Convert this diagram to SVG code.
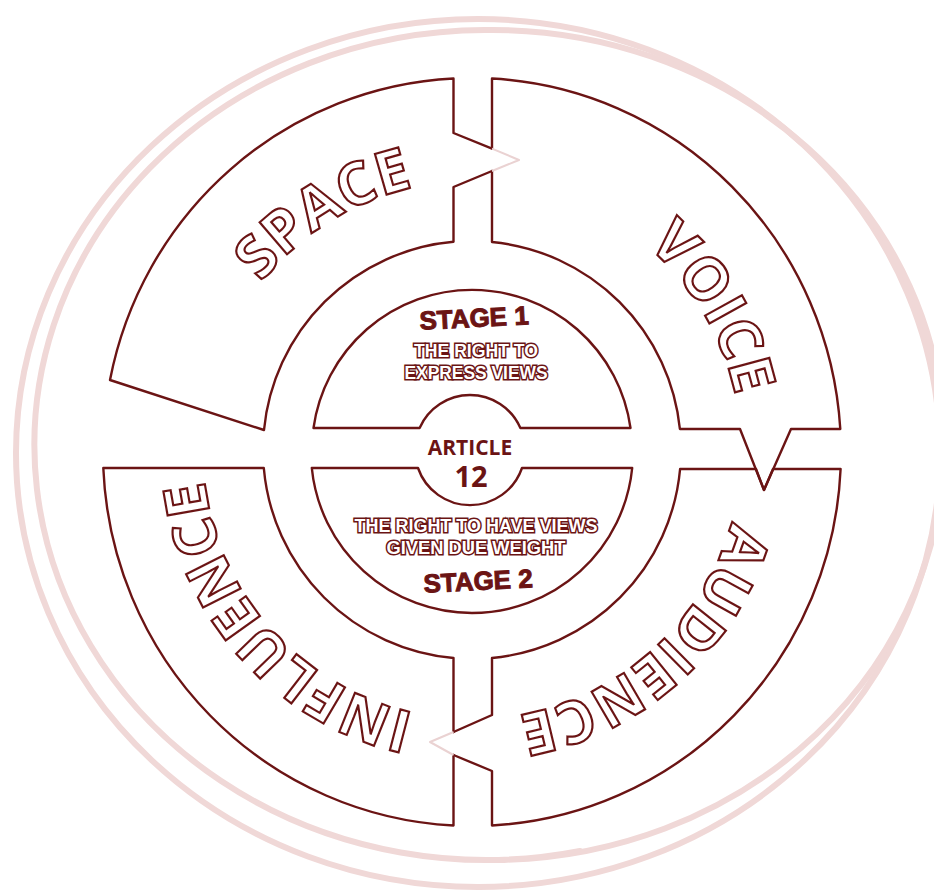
<svg xmlns="http://www.w3.org/2000/svg" width="934" height="892" viewBox="0 0 934 892">
<style>
.ln{fill:none;stroke:#6b1414;stroke-width:2.4;stroke-linejoin:round;stroke-linecap:round}
.pale{fill:none;stroke:#ead2d2;stroke-width:2;stroke-linejoin:round}
.deco{fill:none;stroke:#f0d8d7;stroke-width:6;stroke-linecap:round}
.big{font-family:"Open Sans","DejaVu Sans",sans-serif;font-weight:700;font-size:59px;fill:#fff;stroke:#6b1414;stroke-width:2.2;letter-spacing:0.5px}
.stage{font-family:"Liberation Sans",Arial,sans-serif;font-weight:700;font-size:26px;fill:#6b1414;stroke:#6b1414;stroke-width:1;text-anchor:middle}
.out{font-family:"Liberation Sans",Arial,sans-serif;font-weight:700;font-size:18px;fill:#fff;stroke:#6b1414;stroke-width:3;paint-order:stroke;text-anchor:middle}
.art{font-family:"Open Sans","Liberation Sans",sans-serif;font-weight:700;fill:#6b1414;text-anchor:middle}
</style>
<defs>
<path id="pSpace" d="M 208.9,505.9 A 269 269 0 0 1 637.6,238.0"/>
<path id="pVoice" d="M 423.0,185.5 A 269 269 0 0 1 679.6,621.1"/>
<path id="pAudience" d="M 721.1,348.4 A 269 269 0 0 1 346.5,688.0"/>
<path id="pInfluence" d="M 572.8,699.4 A 269 269 0 0 1 234.5,323.7"/>
</defs>
<rect width="934" height="892" fill="#fff"/>
<g id="decoration">
<ellipse class="deco" cx="478" cy="453" rx="462" ry="434"/>
<path class="deco" d="M 580,851 A 452 415 0 1 1 485,30 A 452 415 0 0 1 499,860"/>
</g>
<g id="node-space">
<path class="ln" d="M 492,148.6 L 453.5,133 L 453.5,78.5 A 369 374 0 0 0 110,380 L 264,430 A 209 209 0 0 1 453.5,241.8 L 453.5,187 L 492,171"/>
<text class="big"><textPath href="#pSpace" startOffset="50%" text-anchor="middle">SPACE</textPath></text>
</g>
<g id="node-voice">
<path class="ln" d="M 492,148.6 L 492,78.5 A 369 374 0 0 1 840.3,429 L 791,429 L 764,490 L 740,429 L 679.9,429 A 209 209 0 0 0 492,242 L 492,171"/>
<text class="big"><textPath href="#pVoice" startOffset="50%" text-anchor="middle">VOICE</textPath></text>
</g>
<g id="node-audience">
<path class="ln" d="M 453.5,732 L 492,715 L 492,658 A 209 209 0 0 0 680.1,469 L 756,469 L 764,490 L 773,469 L 840.6,469 A 369 374 0 0 1 492,825.5 L 492,771 L 453.5,755"/>
<text class="big"><textPath href="#pAudience" startOffset="50%" text-anchor="middle">AUDIENCE</textPath></text>
</g>
<g id="node-influence">
<path class="ln" d="M 453.5,732 L 453.5,658 A 209 209 0 0 1 263.8,468 L 103.3,468 A 369 374 0 0 0 453.5,825.5 L 453.5,755"/>
<text class="big"><textPath href="#pInfluence" startOffset="50%" text-anchor="middle">INFLUENCE</textPath></text>
</g>
<g id="node-stage1">
<path class="ln" d="M 313.5,428 A 160 160 0 0 1 630.5,428 L 520.4,428 A 55 55 0 0 0 419.6,428 Z"/>
<text class="stage" x="474" y="327" transform="rotate(-3 474 317)">STAGE 1</text>
<text class="out" x="476" y="357" textLength="124" lengthAdjust="spacingAndGlyphs">THE RIGHT TO</text>
<text class="out" x="476" y="379" textLength="143" lengthAdjust="spacingAndGlyphs">EXPRESS VIEWS</text>
</g>
<g id="node-article">
<text class="art" x="470" y="455" font-size="21">ARTICLE</text>
<text class="art" x="471" y="487" font-size="29" font-weight="600">12</text>
</g>
<g id="node-stage2">
<path class="ln" d="M 311.8,468 L 418,468 A 55 55 0 0 0 522,468 L 632.2,468 A 161 161 0 0 1 311.8,468 Z"/>
<text class="out" x="476" y="532" textLength="243" lengthAdjust="spacingAndGlyphs">THE RIGHT TO HAVE VIEWS</text>
<text class="out" x="476" y="554" textLength="179" lengthAdjust="spacingAndGlyphs">GIVEN DUE WEIGHT</text>
<text class="stage" x="478" y="590" transform="rotate(-3 478 580)">STAGE 2</text>
</g>
<g id="connectors">
<path class="pale" d="M 492,148.6 L 519,160 L 492,171"/>
<path class="pale" d="M 453.5,732 L 430,742 L 453.5,755"/>
</g>
</svg>
